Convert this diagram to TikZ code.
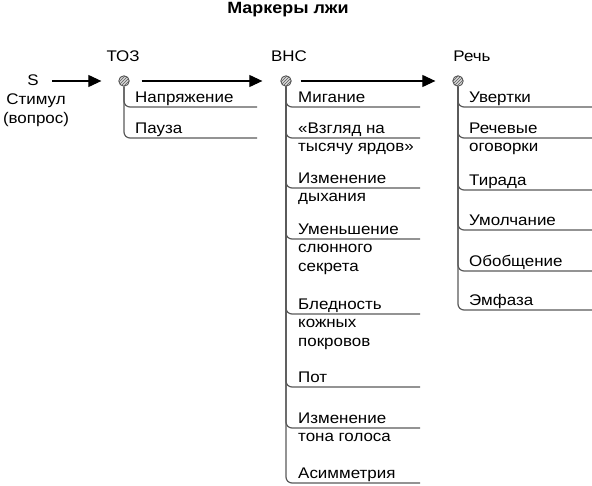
\documentclass[tikz,border=0pt]{standalone}
\usepackage{fontspec}
\setmainfont{Liberation Sans}[FakeStretch=1.1]
\usetikzlibrary{arrows.meta,patterns}

\begin{document}
\begin{tikzpicture}[x=1pt,y=-1pt,
    font=\fontsize{15.4}{18.6}\selectfont,
    dot/.style={circle,draw=black!70,line width=0.8pt,fill=gray!30,inner sep=0pt,minimum size=10.5pt,
      postaction={pattern=north east lines,pattern color=black!65}},
    branch/.style={draw=black!65,line width=1.2pt,rounded corners=6pt},
    item/.style={anchor=north west,yshift=13.02pt,inner sep=0pt,align=left},
    flow/.style={-{Triangle[length=13pt,width=12pt]},line width=1.1pt}]
  \useasboundingbox (0,0) rectangle (592,486);
  \node[font=\fontsize{16.3}{18}\selectfont\bfseries] (title) at (288,10) {Маркеры лжи};
  \node (s) at (33,80) {S};
  \node[align=center,inner sep=0pt] (stim) at (36,110) {Стимул\\(вопрос)};
  % column heads
  \node (toz) [dot] at (124,81) {};
  \node (vns) [dot] at (286,81) {};
  \node (rech) [dot] at (458,81) {};
  \node (tozl) at (123,56) {ТОЗ};
  \node (vnsl) at (289,56) {ВНС};
  \node (rechl) at (472,56) {Речь};
  \draw[flow] ([xshift=10pt]s.east |- toz) -- ([xshift=-17pt]toz.west);
  \draw[flow] ([xshift=12pt]toz.east) -- ([xshift=-18pt]vns.west);
  \draw[flow] ([xshift=9pt]vns.east) -- ([xshift=-17pt]rech.west);
  % TOZ
  \foreach \y/\t [count=\i] in {107/Напряжение, 138/Пауза}{
    \coordinate (te\i) at (257,\y);
    \draw[branch] (toz.south) |- (te\i);
    \node (t\i) [item] at (135,\y-5) {\strut\t};
  }
  % VNS
  \foreach \y/\t [count=\i] in {107/Мигание, 138/{«Взгляд на\\тысячу ярдов»},
      188/{Изменение\\дыхания}, 239/{Уменьшение\\слюнного\\секрета},
      314/{Бледность\\кожных\\покровов}, 387/Пот,
      428/{Изменение\\тона голоса}, 483/Асимметрия}{
    \coordinate (ve\i) at (420,\y);
    \draw[branch] (vns.south) |- (ve\i);
    \node (v\i) [item] at (298,\y-5) {\strut\t};
  }
  % speech
  \foreach \y/\t [count=\i] in {107/Увертки, 138/{Речевые\\оговорки}, 190/Тирада,
      230/Умолчание, 271/Обобщение, 310/Эмфаза}{
    \coordinate (re\i) at (592,\y);
    \draw[branch] (rech.south) |- (re\i);
    \node (r\i) [item] at (469,\y-5) {\strut\t};
  }
\end{tikzpicture}
\end{document}
